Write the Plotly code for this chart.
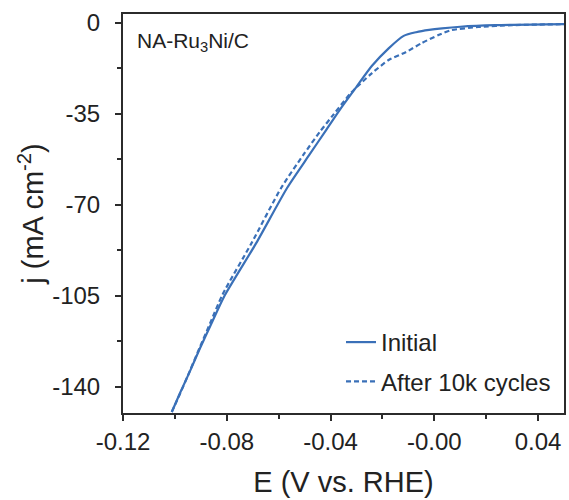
import plotly.graph_objects as go

# Data
E_initial = [-0.1012, -0.0981, -0.0943, -0.0905, -0.0860, -0.0809, -0.0686, -0.0567,
             -0.0482, -0.0417, -0.0367, -0.0300, -0.0241, -0.0176, -0.0118, -0.0070,
             -0.0020, 0.0030, 0.0100, 0.0235, 0.0500]
j_initial = [-149.6, -142.5, -134.2, -125.5, -115.8, -105.0, -84.6, -63.4,
             -50.8, -41.2, -33.8, -24.6, -16.6, -9.8, -5.0, -3.6,
             -2.7, -2.1, -1.5, -0.9, -0.5]

E_after = [-0.1012, -0.0981, -0.0943, -0.0905, -0.0862, -0.0816, -0.0704, -0.0590,
           -0.0505, -0.0442, -0.0388, -0.0320, -0.0241, -0.0176, -0.0110, -0.0049,
           0.0016, 0.0066, 0.0170, 0.0300, 0.0500]
j_after = [-149.6, -142.8, -134.0, -125.0, -115.0, -104.4, -84.6, -63.4,
           -50.8, -42.0, -35.2, -26.8, -19.4, -14.3, -11.3, -7.8,
           -4.7, -2.8, -1.6, -0.9, -0.5]

x_tickvals = [-0.12, -0.08, -0.04, 0.0, 0.04]
x_ticktext = ["-0.12", "-0.08", "-0.04", "-0.00", "0.04"]
x_minor = [-0.10, -0.06, -0.02, 0.02]
y_tickvals = [0, -35, -70, -105, -140]
y_ticktext = ["0", "-35", "-70", "-105", "-140"]
y_minor = [-17.5, -52.5, -87.5, -122.5]

blue = "#3a70b8"
axis_col = "#2b2b2b"
font_fam = "Liberation Sans, Arial, sans-serif"

fig = go.Figure()
fig.add_trace(go.Scatter(x=E_initial, y=j_initial, mode="lines", name="Initial",
                         legendgroup="a", line_shape="spline",
                         line=dict(color=blue, width=2.2, smoothing=0.6)))
fig.add_trace(go.Scatter(x=E_after, y=j_after, mode="lines", name="After 10k cycles",
                         legendgroup="b", line_shape="spline",
                         line=dict(color=blue, width=2.2, dash="5px,3px", smoothing=0.6)))

fig.update_layout(
    width=569, height=500,
    margin=dict(l=123, r=3, t=14, b=87),
    paper_bgcolor="white", plot_bgcolor="white",
    font=dict(family=font_fam, size=24, color="#222222"),
    showlegend=True,
    legend=dict(x=(342 - 123) / 443, y=(413 - 320) / 399, xanchor="left", yanchor="top",
                bgcolor="rgba(0,0,0,0)", font=dict(size=24),
                tracegroupgap=5, itemwidth=30),
    annotations=[dict(text="NA-Ru<sub>3</sub>Ni/C", x=(135 - 123) / 443, y=(413 - 42) / 399,
                      xref="paper", yref="paper", xanchor="left", yanchor="middle",
                      showarrow=False, font=dict(size=21, color="#222222"))],
)

fig.update_xaxes(
    range=[-0.12, 0.05], showgrid=False, zeroline=False,
    showline=True, linecolor=axis_col, linewidth=2, mirror=True,
    ticks="outside", ticklen=6, tickwidth=2, tickcolor=axis_col,
    tickmode="array", tickvals=x_tickvals, ticktext=x_ticktext,
    minor=dict(tickmode="array", tickvals=x_minor, ticks="outside", ticklen=4,
               tickwidth=2, tickcolor=axis_col),
    title=dict(text="E (V vs. RHE)", standoff=18),
)
fig.update_yaxes(
    range=[-150, 3.4], showgrid=False, zeroline=False,
    showline=True, linecolor=axis_col, linewidth=2, mirror=True,
    ticks="outside", ticklen=6, tickwidth=2, tickcolor=axis_col,
    tickmode="array", tickvals=y_tickvals, ticktext=y_ticktext,
    minor=dict(tickmode="array", tickvals=y_minor, ticks="outside", ticklen=4,
               tickwidth=2, tickcolor=axis_col),
    ticklabelstandoff=10,
    title=dict(text="j (mA cm<sup>-2</sup>)", standoff=0),
)

fig.write_html("out.html")
